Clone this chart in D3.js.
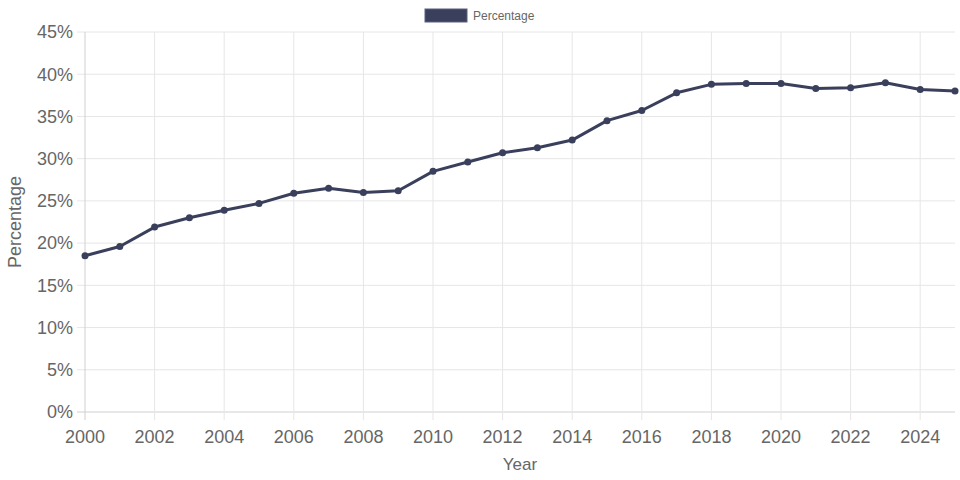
<!DOCTYPE html>
<html>
<head>
<meta charset="utf-8">
<script src="https://cdn.jsdelivr.net/npm/d3@7"></script>
<style>
  html, body { margin: 0; padding: 0; background: #fff; }
  svg { display: block; font-family: "Liberation Sans", Arial, Helvetica, sans-serif; }
</style>
</head>
<body>
<svg id="chart" width="960" height="480"></svg>
<script>
// Data
const years = [2000, 2001, 2002, 2003, 2004, 2005, 2006, 2007, 2008, 2009, 2010, 2011, 2012,
  2013, 2014, 2015, 2016, 2017, 2018, 2019, 2020, 2021, 2022, 2023, 2024, 2025];
const percentage = [18.5, 19.6, 21.9, 23.0, 23.9, 24.7, 25.9, 26.5, 26.0, 26.2, 28.5, 29.6, 30.7,
  31.3, 32.2, 34.5, 35.7, 37.8, 38.8, 38.9, 38.9, 38.3, 38.4, 39.0, 38.2, 38.0];
const yTicks = [0, 5, 10, 15, 20, 25, 30, 35, 40, 45];
const xTicks = [2000, 2002, 2004, 2006, 2008, 2010, 2012, 2014, 2016, 2018, 2020, 2022, 2024];

const lineColor = '#3a3f5c';
const margin = { top: 32, right: 5, bottom: 68, left: 85 };
const width = 960, height = 480;
const innerW = width - margin.left - margin.right;
const innerH = height - margin.top - margin.bottom;

const svg = d3.select('#chart');
const g = svg.append('g').attr('transform', `translate(${margin.left},${margin.top})`);

const x = d3.scaleLinear().domain([2000, 2025]).range([0, innerW]);
const y = d3.scaleLinear().domain([0, 45]).range([innerH, 0]);

// Horizontal grid + y labels
g.selectAll('.hgrid')
  .data(yTicks)
  .enter()
  .append('line')
  .attr('x1', -8)
  .attr('x2', innerW)
  .attr('y1', d => y(d))
  .attr('y2', d => y(d))
  .attr('stroke', d => d === 0 ? '#d0d0d0' : '#e6e6e6')
  .attr('stroke-width', 1);

g.selectAll('.ylab')
  .data(yTicks)
  .enter()
  .append('text')
  .attr('x', -12)
  .attr('y', d => y(d))
  .attr('dy', '0.35em')
  .attr('text-anchor', 'end')
  .attr('fill', '#666')
  .style('font-size', '18px')
  .text(d => d + '%');

// Vertical grid + x labels
g.selectAll('.vgrid')
  .data(xTicks)
  .enter()
  .append('line')
  .attr('x1', d => x(d))
  .attr('x2', d => x(d))
  .attr('y1', 0)
  .attr('y2', innerH + 8)
  .attr('stroke', d => d === 2000 ? '#d0d0d0' : '#e6e6e6')
  .attr('stroke-width', 1);

g.selectAll('.xlab')
  .data(xTicks)
  .enter()
  .append('text')
  .attr('x', d => x(d))
  .attr('y', innerH + 25)
  .attr('dy', '0.35em')
  .attr('text-anchor', 'middle')
  .attr('fill', '#666')
  .style('font-size', '18px')
  .text(d => d);

// Axis titles
svg.append('text')
  .attr('x', margin.left + innerW / 2)
  .attr('y', 464)
  .attr('dy', '0.35em')
  .attr('text-anchor', 'middle')
  .attr('fill', '#666')
  .style('font-size', '17px')
  .text('Year');

svg.append('text')
  .attr('transform', `translate(15,${margin.top + innerH / 2}) rotate(-90)`)
  .attr('dy', '0.35em')
  .attr('text-anchor', 'middle')
  .attr('fill', '#666')
  .style('font-size', '18px')
  .text('Percentage');

// Line
const data = years.map((yr, i) => ({ year: yr, value: percentage[i] }));
const line = d3.line()
  .x(d => x(d.year))
  .y(d => y(d.value));

g.append('path')
  .datum(data)
  .attr('fill', 'none')
  .attr('stroke', lineColor)
  .attr('stroke-width', 3)
  .attr('stroke-linejoin', 'round')
  .attr('d', line);

g.selectAll('.dot')
  .data(data)
  .enter()
  .append('circle')
  .attr('cx', d => x(d.year))
  .attr('cy', d => y(d.value))
  .attr('r', 3.5)
  .attr('fill', lineColor);

// Legend
const legend = svg.append('g').attr('transform', 'translate(425,9)');
legend.append('rect')
  .attr('width', 42)
  .attr('height', 13)
  .attr('fill', lineColor)
  .attr('stroke', '#5a6080')
  .attr('stroke-width', 1);
legend.append('text')
  .attr('x', 48)
  .attr('y', 7)
  .attr('dy', '0.35em')
  .attr('fill', '#666')
  .style('font-size', '12px')
  .text('Percentage');
</script>
</body>
</html>
